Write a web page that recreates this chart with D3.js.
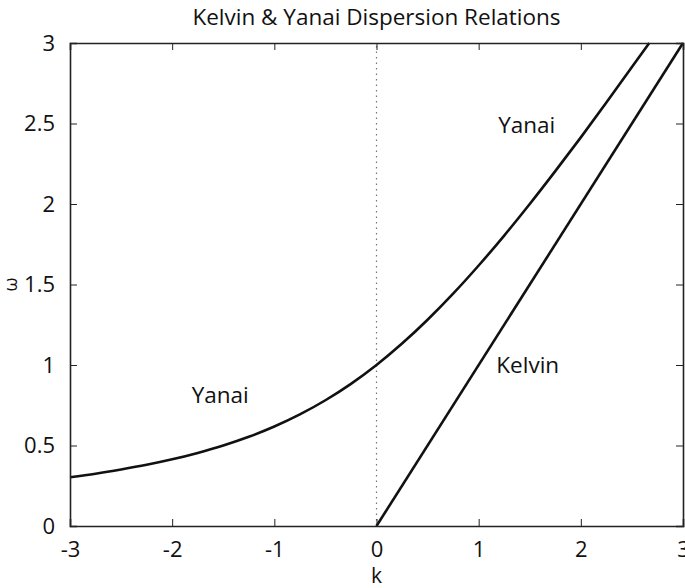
<!DOCTYPE html>
<html>
<head>
<meta charset="utf-8">
<script src="https://cdn.jsdelivr.net/npm/d3@7"></script>
<style>
  html, body { margin: 0; padding: 0; background: #fff; }
  svg { display: block; }
  text { font-family: "Open Sans", "Noto Sans", sans-serif; fill: #111; }
</style>
</head>
<body>
<svg id="chart" width="685" height="588"></svg>
<script>
// Yanai branch: wavenumber k and frequency omega
const yanaiK =     [-3, -2.75, -2.5, -2.25, -2, -1.75, -1.5, -1.25, -1, -0.75, -0.5, -0.25, 0, 0.25, 0.5, 0.75, 1, 1.25, 1.5, 1.75, 2, 2.25, 2.5, 2.67];
const yanaiOmega = [0.303, 0.325, 0.351, 0.380, 0.414, 0.454, 0.5, 0.554, 0.618, 0.693, 0.781, 0.883, 1, 1.133, 1.281, 1.443, 1.618, 1.804, 2.0, 2.204, 2.414, 2.630, 2.851, 3.0];
// Kelvin branch
const kelvinK =     [0, 3];
const kelvinOmega = [0, 3];

const xTicks = [-3, -2, -1, 0, 1, 2, 3];
const yTicks = [0, 0.5, 1, 1.5, 2, 2.5, 3];
const curveLabels = [
  { text: "Yanai", k: -1.53, w: 0.80 },
  { text: "Yanai", k: 1.47, w: 2.48 },
  { text: "Kelvin", k: 1.48, w: 0.99 }
];

const svg = d3.select("#chart");
const margin = { left: 70, right: 2, top: 43, bottom: 62 };
const W = 685, H = 588;

const x = d3.scaleLinear().domain([-3, 3]).range([margin.left, W - margin.right]);
const y = d3.scaleLinear().domain([0, 3]).range([H - margin.bottom, margin.top]);

// zero-wavenumber reference line
svg.append("line")
  .attr("x1", x(0)).attr("x2", x(0))
  .attr("y1", y(0)).attr("y2", y(3))
  .attr("stroke", "#777").attr("stroke-width", 1.2)
  .attr("stroke-dasharray", "1.5,4");

const line = d3.line().x(d => x(d[0])).y(d => y(d[1])).curve(d3.curveMonotoneX);

svg.append("path")
  .datum(yanaiK.map((k, i) => [k, yanaiOmega[i]]))
  .attr("d", line)
  .attr("fill", "none").attr("stroke", "#111").attr("stroke-width", 2.6);

svg.append("path")
  .datum(kelvinK.map((k, i) => [k, kelvinOmega[i]]))
  .attr("d", d3.line().x(d => x(d[0])).y(d => y(d[1])))
  .attr("fill", "none").attr("stroke", "#111").attr("stroke-width", 2.6);

// axes with inward ticks on all four sides; labels use a plain hyphen for negatives
const tickLen = 7;
const fmt = d => String(d);
const axisBottomG = svg.append("g").attr("transform", `translate(0,${y(0)})`)
  .call(d3.axisBottom(x).tickValues(xTicks).tickSize(-tickLen).tickPadding(15).tickFormat(fmt));
const axisTopG = svg.append("g").attr("transform", `translate(0,${y(3)})`)
  .call(d3.axisTop(x).tickValues(xTicks).tickSize(-tickLen).tickFormat(""));
const axisLeftG = svg.append("g").attr("transform", `translate(${x(-3)},0)`)
  .call(d3.axisLeft(y).tickValues(yTicks).tickSize(-tickLen).tickPadding(15).tickFormat(fmt));
const axisRightG = svg.append("g").attr("transform", `translate(${x(3)},0)`)
  .call(d3.axisRight(y).tickValues(yTicks).tickSize(-tickLen).tickFormat(""));

[axisBottomG, axisTopG, axisLeftG, axisRightG].forEach(g => {
  g.select(".domain").attr("stroke", "#222").attr("stroke-width", 1.6);
  g.selectAll(".tick line").attr("stroke", "#222").attr("stroke-width", 1);
  g.selectAll("text").attr("font-size", 22).attr("fill", "#111")
    .style("font-family", '"Open Sans", "Noto Sans", sans-serif');
});

// title and axis labels
svg.append("text").attr("x", x(0)).attr("y", 25)
  .attr("text-anchor", "middle").attr("font-size", 22.5)
  .text("Kelvin & Yanai Dispersion Relations");

svg.append("text").attr("x", x(0)).attr("y", 583)
  .attr("text-anchor", "middle").attr("font-size", 21)
  .text("k");

svg.append("text")
  .attr("transform", `translate(17,${y(1.5)}) rotate(-90)`)
  .attr("text-anchor", "middle").attr("font-size", 18)
  .text("ω");

svg.selectAll(".curve-label").data(curveLabels).enter().append("text")
  .attr("class", "curve-label")
  .attr("x", d => x(d.k)).attr("y", d => y(d.w))
  .attr("text-anchor", "middle").attr("dominant-baseline", "middle")
  .attr("font-size", 22.5)
  .text(d => d.text);
</script>
</body>
</html>
